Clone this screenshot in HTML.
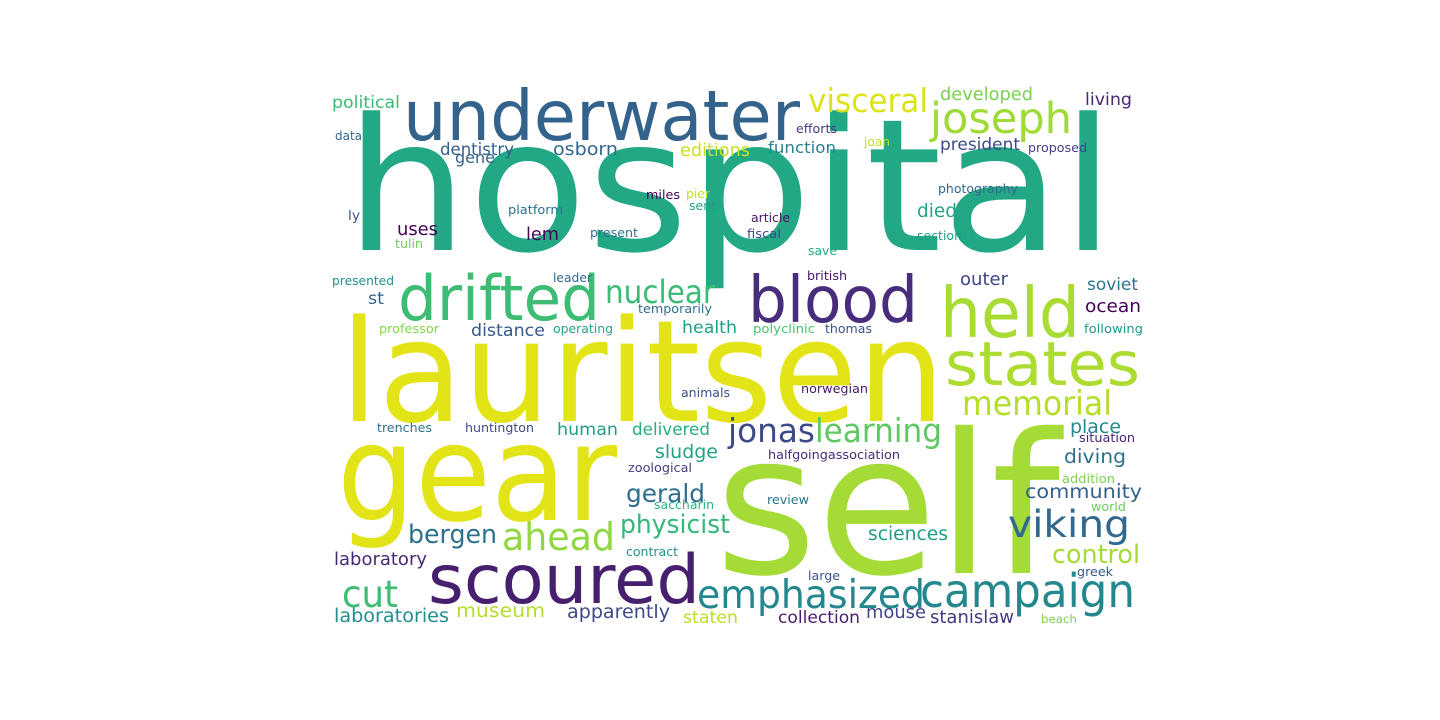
<!DOCTYPE html>
<html><head><meta charset="utf-8"><style>
html,body{margin:0;padding:0;background:#fff;width:1440px;height:720px;overflow:hidden}
svg text{font-family:"DejaVu Sans","Liberation Sans",sans-serif}
</style></head><body>
<svg id="cloud" width="1440" height="720" viewBox="0 0 1440 720" xmlns="http://www.w3.org/2000/svg">
<rect width="1440" height="720" fill="#fff"/>
</svg>
<script>
// [word, left x, baseline y, font size, rendered width, color]
const words = [
["hospital",345,250,174,770,"#22a884"],
["underwater",403,140,70,397,"#33638d"],
["lauritsen",340,421,145,605,"#e2e418"],
["gear",337,520,146,280,"#e2e418"],
["self",715,573,195,345,"#a5db36"],
["drifted",398,320,63,202,"#3dbc74"],
["blood",748,322,68,170,"#472d7b"],
["held",940,337,74,140,"#a8db34"],
["states",945,385,58,195,"#addc30"],
["scoured",428,603,67,272,"#46206f"],
["campaign",920,607,50,215,"#23888e"],
["emphasized",697,608,40,228,"#24878e"],
["joseph",930,133,42,142,"#a0da39"],
["visceral",808,112,35,120,"#dde318"],
["memorial",962,415,36,150,"#b5de2b"],
["learning",815,442,34,127,"#5ec962"],
["jonas",728,442,34,87,"#3e4989"],
["nuclear",605,303,34,110,"#3bbb75"],
["ahead",502,550,40,113,"#90d743"],
["cut",342,607,40,56,"#3ebc73"],
["viking",1008,537,34,122,"#31688e"],
["control",1052,563,26,88,"#a5db36"],
["physicist",620,533,26,110,"#35b779"],
["bergen",408,543,27,89,"#2c728e"],
["gerald",626,502,25,79,"#2e6e8e"],
["community",1025,498,19,117,"#34618d"],
["sciences",868,540,19,80,"#1f9e89"],
["diving",1064,463,19,62,"#2d708e"],
["place",1070,433,18,51,"#23898e"],
["situation",1079,442,12,56,"#482475"],
["halfgoingassociation",768,459,12.5,132,"#472c7a"],
["addition",1062,483,12,53,"#7ad151"],
["world",1091,511,12,35,"#6ccd5a"],
["review",767,504,12,42,"#2a788e"],
["greek",1077,576,12,36,"#39568c"],
["large",808,580,12,32,"#3a538b"],
["beach",1041,623,12,36,"#7fd34e"],
["collection",778,623,16,82,"#481d6f"],
["mouse",866,618,17,60,"#414487"],
["stanislaw",930,623,17,84,"#453781"],
["staten",683,623,16,55,"#b8de29"],
["apparently",567,618,18,103,"#3f4788"],
["museum",456,617,18,89,"#b5de2b"],
["laboratories",334,622,18,115,"#21908d"],
["laboratory",334,565,18,93,"#482878"],
["contract",626,556,12,52,"#21918c"],
["saccharin",654,509,12,60,"#2db27d"],
["zoological",628,472,12,64,"#433e85"],
["sludge",655,458,18,63,"#20a386"],
["delivered",632,435,17,78,"#27ad81"],
["human",557,435,17,61,"#1fa088"],
["huntington",465,432,12,69,"#3e4a89"],
["trenches",377,432,12,55,"#2c728e"],
["animals",681,397,12,49,"#3b528b"],
["norwegian",801,393,12,67,"#48186a"],
["polyclinic",753,333,12,62,"#4ac16d"],
["thomas",825,333,12,47,"#3b528b"],
["following",1084,333,12,59,"#1f9a8a"],
["ocean",1085,312,17,56,"#440154"],
["soviet",1087,290,17,51,"#2a768e"],
["outer",960,285,17,48,"#414487"],
["british",807,280,12,40,"#471365"],
["save",808,255,12,29,"#25ab82"],
["section",917,240,12,45,"#1f9e89"],
["fiscal",747,238,12,34,"#3e4989"],
["article",751,222,12,39,"#481467"],
["died",917,217,18,40,"#20a386"],
["photography",938,193,12,80,"#31688e"],
["proposed",1028,152,12,59,"#423f85"],
["president",940,150,16,80,"#3e4a89"],
["function",768,153,16,68,"#26828e"],
["joan",864,146,12,26,"#bddf26"],
["efforts",796,133,12,41,"#443983"],
["developed",940,100,17,93,"#7ad151"],
["living",1085,105,17,47,"#482576"],
["political",332,108,17,68,"#3dbc74"],
["data",335,140,12,27,"#33638d"],
["dentistry",440,155,17,74,"#355f8d"],
["gene",455,163,16,40,"#33638d"],
["osborn",553,155,17,65,"#31688e"],
["editions",680,156,17,70,"#c8e020"],
["miles",646,199,12,34,"#440154"],
["pier",686,198,12,24,"#c2df23"],
["sent",689,210,12,27,"#1f9e89"],
["platform",508,214,12,55,"#2c728e"],
["present",590,237,12,48,"#2d708e"],
["ly",348,220,12,12,"#3b528b"],
["uses",397,235,18,41,"#440154"],
["lem",526,240,18,33,"#450559"],
["tulin",395,248,12,28,"#6ece58"],
["presented",332,285,12,62,"#21918c"],
["leader",553,282,12,39,"#31688e"],
["st",368,304,17,16,"#33638d"],
["temporarily",638,313,12,74,"#2d708e"],
["health",682,333,17,55,"#1fa188"],
["distance",471,336,17,74,"#38598c"],
["professor",379,333,12,60,"#86d549"],
["operating",553,333,12,60,"#22a785"]
];
const svg = document.getElementById('cloud');
const NS = 'http://www.w3.org/2000/svg';
for (const w of words) {
  const t = document.createElementNS(NS, 'text');
  t.setAttribute('x', w[1]);
  t.setAttribute('y', w[2]);
  t.setAttribute('font-size', w[3]);
  t.setAttribute('fill', w[5]);
  t.textContent = w[0];
  
  
  svg.appendChild(t);
  let nat = 0;
  try { nat = t.getComputedTextLength(); } catch (e) { nat = 0; }
  if (nat > 0) {
    const r = w[4] / nat;
    const fs = w[3] * Math.sqrt(r);
    t.setAttribute('font-size', fs.toFixed(2));
  }
  t.setAttribute('textLength', w[4]);
  t.setAttribute('lengthAdjust', 'spacingAndGlyphs');
}
</script>
</body></html>
